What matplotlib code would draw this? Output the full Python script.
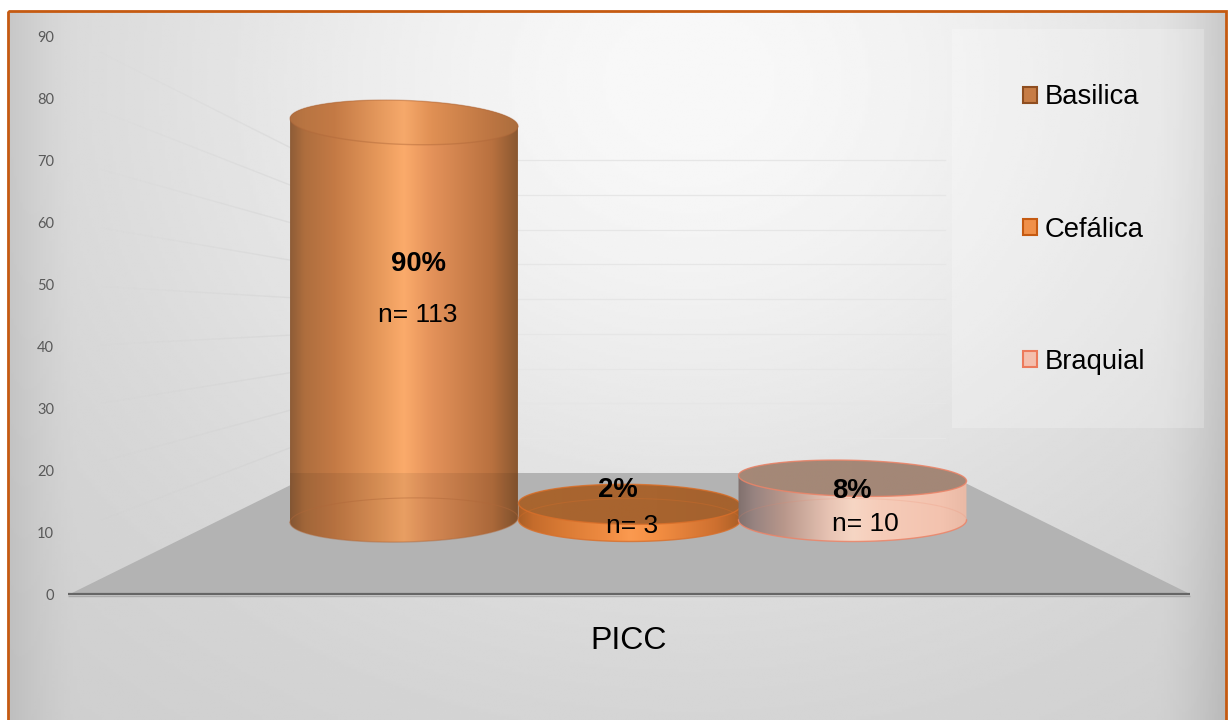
import numpy as np
import matplotlib
matplotlib.use("Agg")
import matplotlib.pyplot as plt
from matplotlib.collections import LineCollection
from matplotlib.patches import Patch, Polygon, Rectangle
from matplotlib.path import Path

# Chart values
categories = ["Basilica", "Cefálica", "Braquial"]
percentages = [90, 2, 8]
counts = [113, 3, 10]
axis_ticks = list(range(0, 100, 10))
group_label = "PICC"

W, H = 1230, 720
fig = plt.figure(figsize=(W / 100, H / 100), dpi=100, facecolor="white")
ax = fig.add_axes([0, 0, 1, 1])
ax.set_axis_off()


def restore_limits():
    ax.set_xlim(0, W)
    ax.set_ylim(H, 0)


# Chart area background: soft light centre with darker edges
FRAME_L, FRAME_T, FRAME_R = 8, 11, 1226
xx, yy = np.meshgrid(np.linspace(FRAME_L, FRAME_R, 400), np.linspace(FRAME_T, H, 300))
dist2 = ((xx - 690) / 740) ** 2 + ((yy - 80) / 640) ** 2
shade = 204 + 44 * np.exp(-1.6 * dist2)
shade -= 16 * np.clip((FRAME_L + 70 - xx) / 70, 0, 1) ** 1.5
shade -= 22 * np.clip((xx - (FRAME_R - 70)) / 70, 0, 1) ** 1.5
ax.imshow(np.clip(shade, 0, 255) / 255, cmap="gray", vmin=0, vmax=1, aspect="auto",
          extent=(FRAME_L, FRAME_R, H, FRAME_T), zorder=0, interpolation="bilinear")
restore_limits()
ax.add_patch(Rectangle((FRAME_L, FRAME_T), FRAME_R - FRAME_L, H + 20 - FRAME_T, fill=False,
                       ec="#C55A11", lw=2.0, zorder=10))

# Perspective box: front edge at the axis, back wall further up
FRONT_Y, BACK_FLOOR_Y = 594, 473
FRONT_TOP_Y = 37
BACK_TOP_Y = 160
FRONT_L, FRONT_R = 70, 1190
BACK_L, BACK_R = 315, 945
vmax = axis_ticks[-1]


def front_y(v):
    return FRONT_Y - (FRONT_Y - FRONT_TOP_Y) * v / vmax


def back_y(v):
    return BACK_FLOOR_Y - (BACK_FLOOR_Y - BACK_TOP_Y) * v / vmax


ax.add_patch(Polygon([(FRONT_L, FRONT_Y), (BACK_L, BACK_FLOOR_Y), (BACK_R, BACK_FLOOR_Y), (FRONT_R, FRONT_Y)],
                     closed=True, fc="#B3B3B3", ec="none", zorder=1))

for v in axis_ticks[1:]:
    # Side wall gridline fades towards the front
    xs = np.linspace(FRONT_L + 25, BACK_L, 40)
    ys = np.interp(xs, [FRONT_L, BACK_L], [front_y(v), back_y(v)])
    pts = np.column_stack([xs, ys])
    segs = np.stack([pts[:-1], pts[1:]], axis=1)
    cols = np.zeros((len(segs), 4))
    cols[:, :3] = 0.80
    cols[:, 3] = np.linspace(0.0, 0.42, len(segs))
    ax.add_collection(LineCollection(segs, colors=cols, linewidths=1.0, zorder=1.5))
    # Back wall gridline
    ax.plot([BACK_L, BACK_R], [back_y(v), back_y(v)], color="#E6E6E6", lw=0.9, zorder=1.5)

# Axis baseline with a faint shadow under it
ax.plot([68, 1190], [FRONT_Y + 2.0, FRONT_Y + 2.0], color="#ABABAB", lw=1.0, zorder=2, solid_capstyle="butt")
ax.plot([68, 1190], [FRONT_Y, FRONT_Y], color="#666666", lw=1.6, zorder=2.1, solid_capstyle="butt")

# Cylinders
UNIT_PX = 4.34
TOP_ZERO_Y = 513
BASE_Y = 520
centres = [404, 629.5, 852.5]
radii = [114, 111, 114]
cap_ry = [22, 20, 18]
base_ry = [22, 21.5, 21.5]
cap_tilt = np.deg2rad([2.0, 0.6, 1.4])
base_tilt = np.deg2rad([-1.2, 0.0, 0.0])

side_stops = [0.0, 0.07, 0.2, 0.4, 0.5, 0.62, 0.88, 1.0]
side_colors = [
    ["#8A5A36", "#AE6E3E", "#C47A45", "#E89A5C", "#FBAB6B", "#E4925A", "#B9713F", "#86552F"],
    ["#A85E26", "#C56C2C", "#D97A34", "#F08C42", "#FB9A50", "#F48E42", "#CE7030", "#A85E26"],
    ["#7F6F6C", "#978380", "#B8978B", "#E8C4B4", "#F6D6C4", "#F6CCB9", "#F3C3AF", "#E9B9A5"],
]
cap_colors = [
    ["#AE6F40", "#B97542", "#C47A45", "#E69A5E", "#F6A96B", "#E09054", "#BC7542", "#AA6D3D"],
    ["#A8652F", "#A8652F", "#A8652F", "#A8642F", "#A8642F", "#A8642F", "#A5622E", "#A5622E"],
    ["#A58877", "#A58877", "#A48877", "#A48877", "#A48877", "#A38777", "#A38777", "#A38777"],
]
edge_colors = ["#B0683A", "#D96F2A", "#EC8468"]
edge_alpha = [0.45, 0.8, 0.85]
rim_alpha = [0.45, 0.3, 0.18]


def hex_ramp(colors, alpha, n=256):
    rgb = np.array([matplotlib.colors.to_rgb(c) for c in colors])
    t = np.linspace(0, 1, n)
    out = np.zeros((1, n, 4))
    for i in range(3):
        out[0, :, i] = np.interp(t, side_stops, rgb[:, i])
    out[0, :, 3] = alpha
    return out


def ellipse_pts(cx, cy, rx, ry, tilt, a0, a1, n=120):
    th = np.linspace(a0, a1, n)
    x, y = rx * np.cos(th), ry * np.sin(th)
    return np.column_stack([cx + x * np.cos(tilt) - y * np.sin(tilt),
                            cy + x * np.sin(tilt) + y * np.cos(tilt)])


def fill_shape(pts, colors, cx, rx, zorder, alpha=1.0):
    img = ax.imshow(hex_ramp(colors, alpha), aspect="auto", zorder=zorder,
                    extent=(cx - rx - 2, cx + rx + 2, pts[:, 1].max() + 1, pts[:, 1].min() - 1),
                    interpolation="bilinear")
    clip = Path(pts, closed=False)
    img.set_clip_path(clip, transform=ax.transData)
    restore_limits()
    return clip


for i, (pct, cx, rx) in enumerate(zip(percentages, centres, radii)):
    top_y = TOP_ZERO_Y - UNIT_PX * pct
    z = 3 + i * 0.1
    upper = ellipse_pts(cx, top_y, rx, cap_ry[i], cap_tilt[i], np.pi, 2 * np.pi)
    lower = ellipse_pts(cx, BASE_Y, rx, base_ry[i], base_tilt[i], 0, np.pi)
    side = np.vstack([upper, lower, upper[:1]])
    clip = fill_shape(side, side_colors[i], cx, rx, z)
    # The floor shows through the lower part of a tall body as a slight darkening
    if top_y < BACK_FLOOR_Y:
        band = Rectangle((cx - rx - 2, BACK_FLOOR_Y), 2 * rx + 4, H - BACK_FLOOR_Y, fc="black", ec="none",
                         alpha=0.07, zorder=z + 0.005)
        ax.add_patch(band)
        band.set_clip_path(clip, transform=ax.transData)
    cap = ellipse_pts(cx, top_y, rx, cap_ry[i], cap_tilt[i], 0, 2 * np.pi)
    fill_shape(cap, cap_colors[i], cx, rx, z + 0.01)
    ax.plot(cap[:, 0], cap[:, 1], color=edge_colors[i], lw=1.0, alpha=edge_alpha[i], zorder=z + 0.02)
    # Base rim seen through the translucent body, and outer edge
    rim = ellipse_pts(cx, BASE_Y, rx, base_ry[i], base_tilt[i], np.pi, 2 * np.pi)
    ax.plot(rim[:, 0], rim[:, 1], color=edge_colors[i], lw=0.8, alpha=rim_alpha[i], zorder=z + 0.02)
    ax.plot(lower[:, 0], lower[:, 1], color=edge_colors[i], lw=1.0, alpha=edge_alpha[i], zorder=z + 0.02)

# Labels inside the cylinders
TXT = "Liberation Sans"
pct_offsets = [(14, 264), (-12, 490), (-1, 491)]
cnt_offsets = [(14, 315), (3, 526), (13, 524)]
for i, cx in enumerate(centres):
    ax.text(cx + pct_offsets[i][0], pct_offsets[i][1], f"{percentages[i]}%", family=TXT, weight="bold",
            fontsize=19.8, ha="center", va="center", color="black", zorder=6)
    ax.text(cx + cnt_offsets[i][0], cnt_offsets[i][1], f"n= {counts[i]}", family=TXT,
            fontsize=19, ha="center", va="center", color="black", zorder=6)

# Legend panel and legend
ax.add_patch(Rectangle((952, 29), 252, 399, fc="white", ec="none", alpha=0.22, zorder=2.5))
legend_edges = ["#8F4E20", "#C55A11", "#EC7A5C"]
legend_faces = ["#C77C45", "#F09049", "#F4BFAE"]
handles = [Patch(fc=f, ec=e, lw=1.5, label=c) for f, e, c in zip(legend_faces, legend_edges, categories)]
ax.legend(handles=handles, loc="upper left", bbox_to_anchor=(1023, 84.5), bbox_transform=ax.transData,
          frameon=False, prop={"family": TXT, "size": 19.7}, labelspacing=3.88, borderpad=0,
          borderaxespad=0, handlelength=0.5, handleheight=0.5, handletextpad=0.28, labelcolor="black")

# Value axis and category label as a real overlaid axis
ax2 = fig.add_axes([68 / W, (H - FRONT_Y) / H, (1190 - 68) / W, (FRONT_Y - FRONT_TOP_Y) / H])
ax2.patch.set_alpha(0)
for s in ax2.spines.values():
    s.set_visible(False)
ax2.set_ylim(0, vmax)
ax2.set_xlim(-0.5, 0.5)
ax2.set_yticks(axis_ticks)
ax2.set_xticks([0])
ax2.set_xticklabels([group_label], family=TXT, fontsize=23, color="black")
ax2.tick_params(axis="x", length=0, pad=23)
ax2.tick_params(axis="y", length=0, pad=10, labelsize=10.5, labelcolor="#595959")
for lab in ax2.get_yticklabels():
    lab.set_family("Lato")

fig.savefig("out.png", dpi=100, facecolor="white")
